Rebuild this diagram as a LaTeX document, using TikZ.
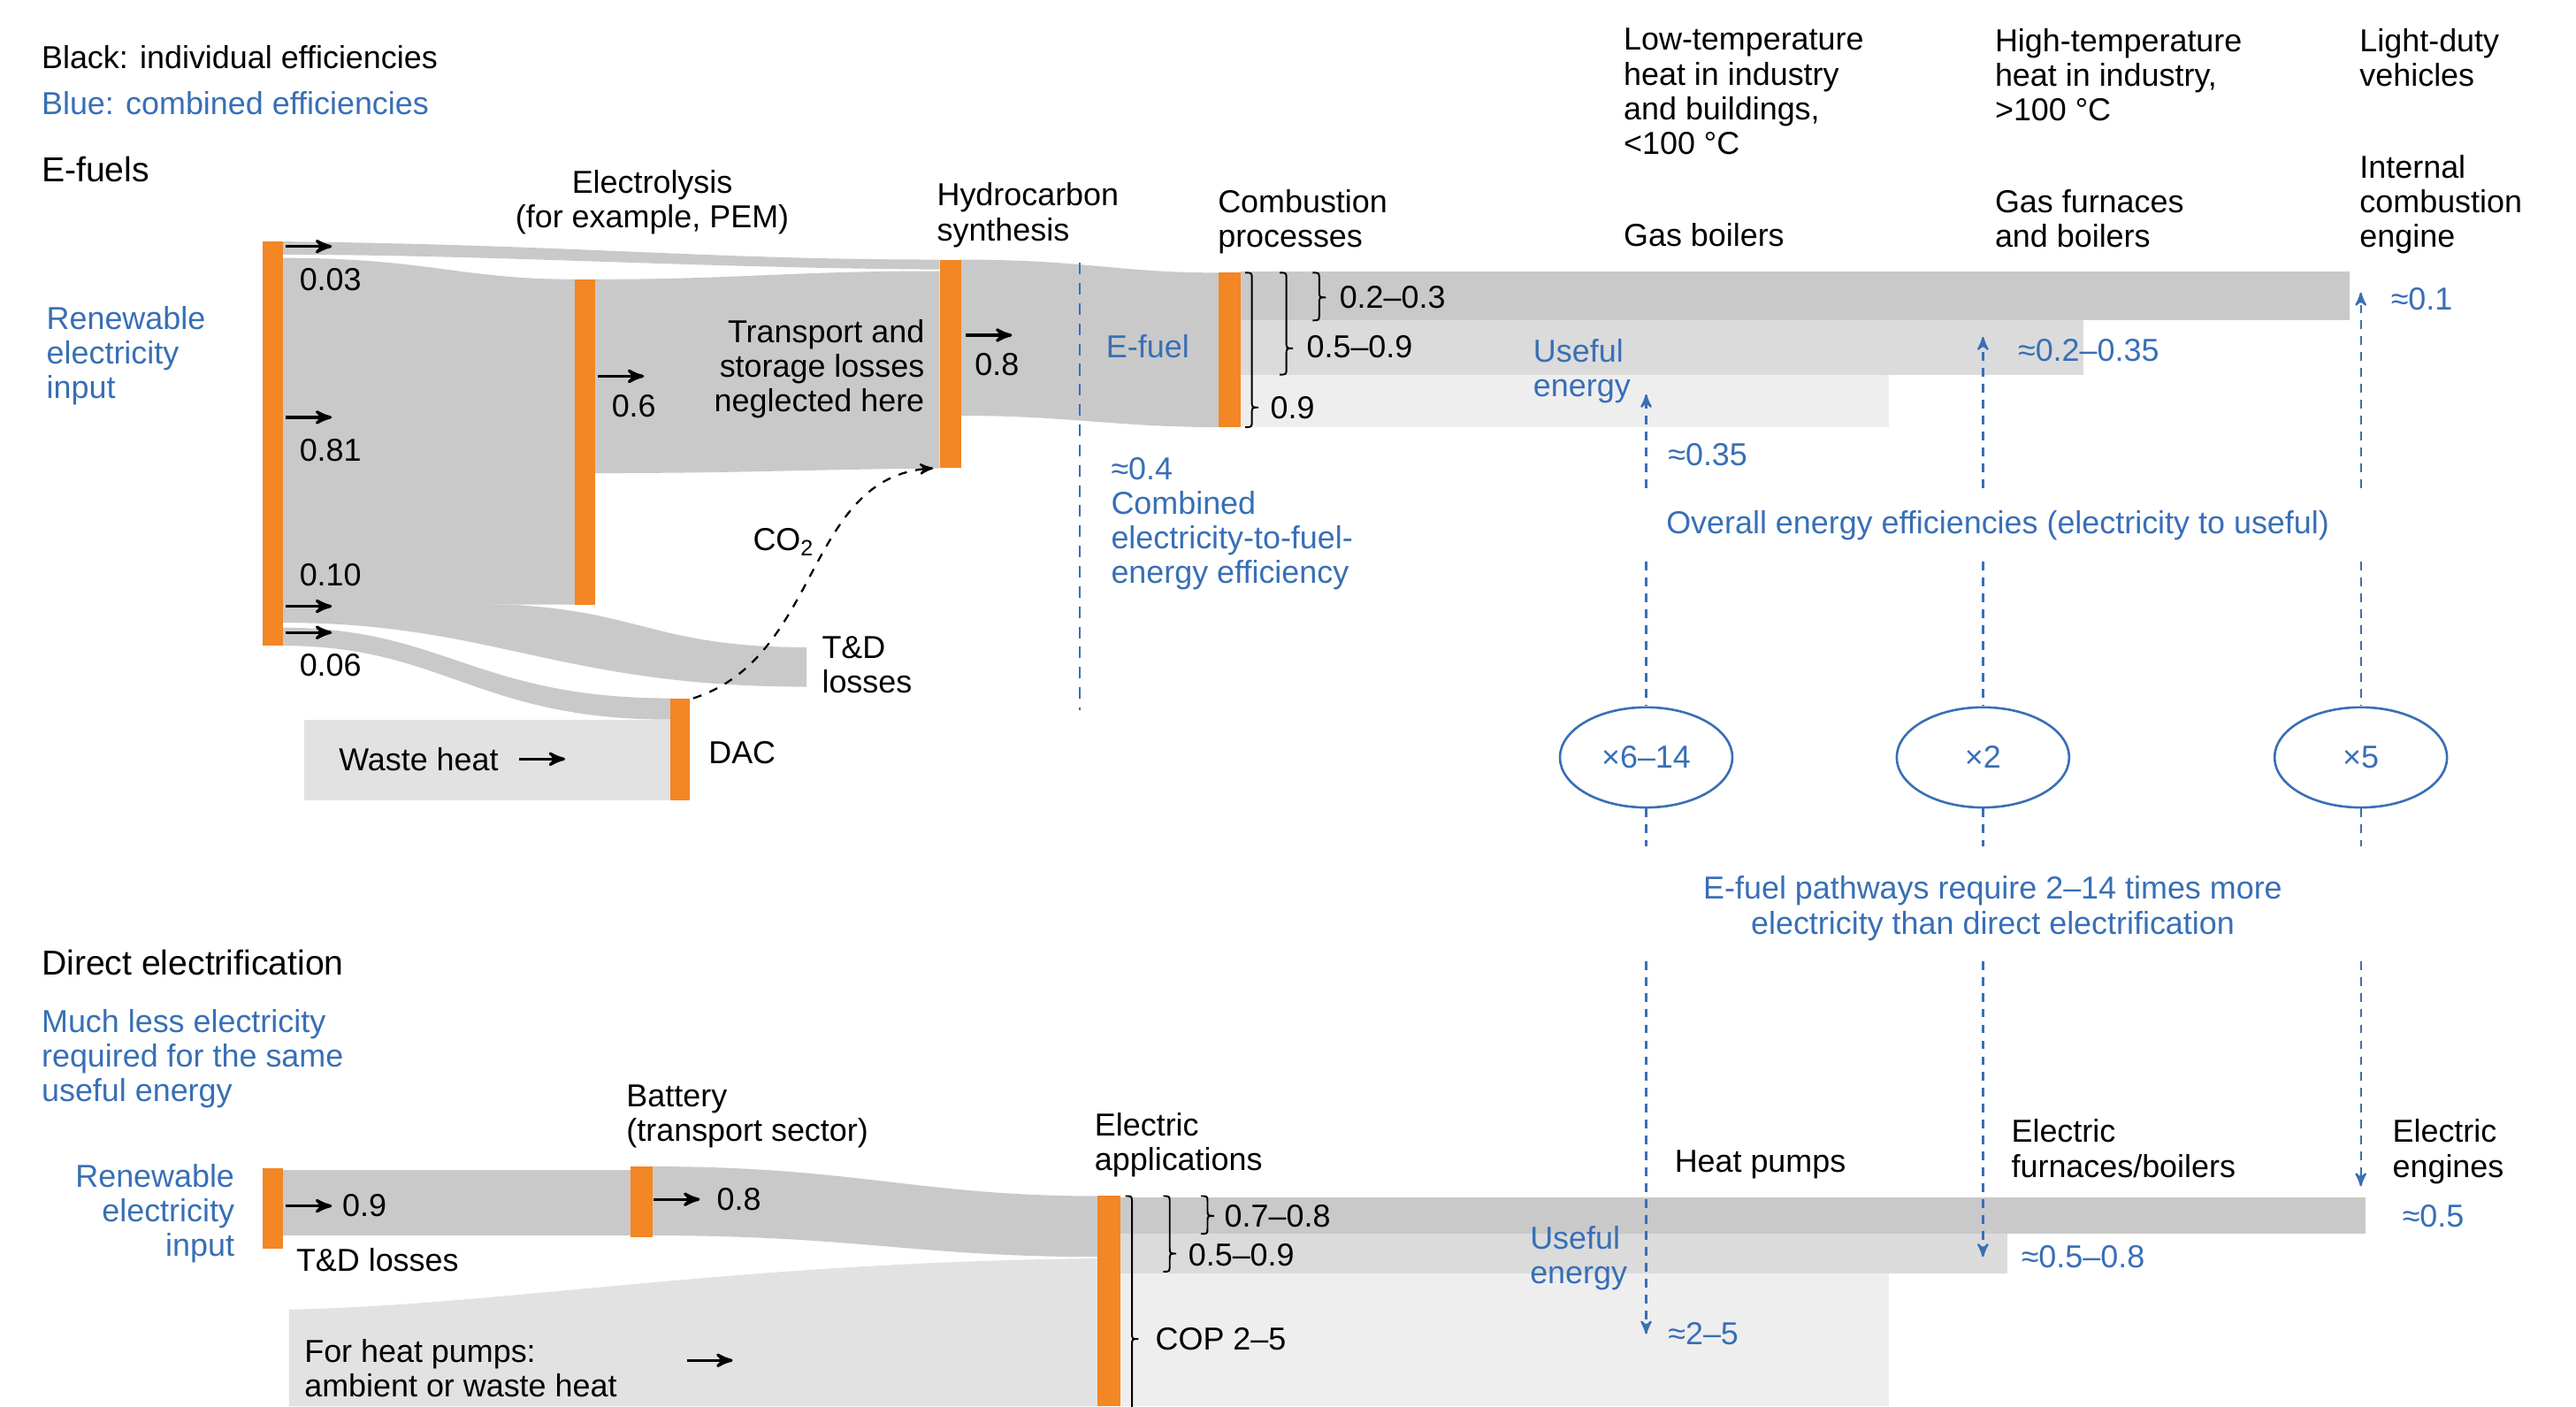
\documentclass[tikz,border=0pt]{standalone}
\usepackage{fontspec}
\setmainfont{Liberation Sans}
\usetikzlibrary{arrows,shapes.geometric}

\definecolor{barorange}{RGB}{243,134,37}
\definecolor{effblue}{RGB}{56,111,182}
\definecolor{flowgray}{RGB}{201,201,201}
\definecolor{midgray}{RGB}{219,219,219}
\definecolor{palegray}{RGB}{238,238,238}
\definecolor{heatgray}{RGB}{226,226,226}

% right brace: x, top, tip, bottom
\newcommand{\sidebrace}[4]{%
  \draw[brace line] (#1,#2) .. controls (#1+4,#2) .. (#1+4,#2+4) -- (#1+4,#3-4)
    .. controls (#1+4,#3) .. (#1+8,#3) .. controls (#1+4,#3) .. (#1+4,#3+4)
    -- (#1+4,#4-4) .. controls (#1+4,#4) .. (#1,#4);}

\begin{document}
\begin{tikzpicture}[x=0.02cm,y=-0.02cm,>=stealth',
  font=\fontsize{11}{12}\selectfont,
  txt/.style={inner sep=0pt,align=left},
  blue txt/.style={txt,text=effblue},
  head txt/.style={txt,anchor=west,font=\fontsize{12}{13}\selectfont},
  val arrow/.style={->,line width=1pt},
  eff line/.style={effblue,line width=0.7pt,dash pattern=on 3pt off 2.5pt},
  ratio/.style={ellipse,draw=effblue,line width=0.8pt,text=effblue,
    minimum width=2.1cm,minimum height=1.22cm,inner sep=0pt},
  brace line/.style={line width=0.6pt}]

\clip (0,0) rectangle (1568,856);

% e-fuel flows
\fill[flowgray] (172,147) .. controls (350,149) and (430,158) .. (572,158)
  -- (572,164) .. controls (420,163) and (300,155) .. (172,155) -- cycle;
\fill[flowgray] (172,157) .. controls (260,157) and (280,170) .. (350,170)
  -- (350,368) -- (172,368) -- cycle;
\fill[flowgray] (362,170) .. controls (450,170) and (480,165) .. (572,165)
  -- (572,285) .. controls (480,286) and (450,288) .. (362,288) -- cycle;
\fill[flowgray] (172,366) -- (310,368) .. controls (390,372) and (400,394) .. (491,394)
  -- (491,418) .. controls (340,418) and (300,379) .. (172,379) -- cycle;
\fill[flowgray] (172,382) .. controls (270,382) and (290,425) .. (408,425)
  -- (408,438) .. controls (290,438) and (270,393) .. (172,393) -- cycle;
\fill[heatgray] (185,438) rectangle (408,487);
\fill[flowgray] (585,158) .. controls (660,158) and (680,166) .. (742,166)
  -- (742,260) .. controls (680,260) and (650,253) .. (585,253) -- cycle;
\fill[palegray] (755,228) rectangle (1150,260);
\fill[midgray] (755,195) rectangle (1268,228);
\fill[flowgray] (755,165) rectangle (1430,195);

% direct electrification flows
\fill[heatgray] (176,856) -- (176,797) .. controls (300,795) and (450,768) .. (668,766)
  -- (668,856) -- cycle;
\fill[flowgray] (172,712) rectangle (384,752);
\fill[flowgray] (397,710) .. controls (520,710) and (560,728) .. (668,728)
  -- (668,765) .. controls (560,765) and (520,752) .. (397,752) -- cycle;
\fill[palegray] (682,775) rectangle (1150,856);
\fill[midgray] (682,751) rectangle (1222,775);
\fill[flowgray] (682,729) rectangle (1440,751);

% process bars
\fill[barorange] (160,147) rectangle (172,393);
\fill[barorange] (350,170) rectangle (362,368);
\fill[barorange] (572,158) rectangle (585,285);
\fill[barorange] (408,425) rectangle (420,487);
\fill[barorange] (742,166) rectangle (755,260);
\fill[barorange] (160,711) rectangle (172,760);
\fill[barorange] (384,710) rectangle (397,753);
\fill[barorange] (668,728) rectangle (682,856);

% braces
\sidebrace{758}{166}{248}{260}
\sidebrace{779}{166}{212}{228}
\sidebrace{799}{166}{181}{195}
\sidebrace{685}{728}{815}{880}
\sidebrace{708}{728}{763}{774}
\sidebrace{731}{728}{740}{751}

% value arrows
\foreach \ax/\ay in {174/150, 174/254, 174/369, 174/385, 364/229, 588/204,
                     316/462, 174/734, 398/730, 418/828}
  \draw[val arrow] (\ax,\ay) -- +(28,0);

% co2 from DAC to synthesis
\coordinate (dacTop) at (422,425);
\coordinate (synBase) at (568,285);
\draw[dashed,->,line width=0.7pt] (dacTop) .. controls (500,400) and (490,290) .. (synBase);

% e-fuel boundary
\draw[effblue,line width=0.6pt,dash pattern=on 4pt off 3pt] (657,160) -- (657,432);

% overall ratios
\node[ratio] (xheat) at (1002,461) {×6–14};
\node[ratio] (xhigh) at (1207,461) {×2};
\node[ratio] (xldv)  at (1437,461) {×5};
\foreach \c/\n/\up/\dn in {1002/xheat/240/812, 1207/xhigh/205/765, 1437/xldv/178/722} {
  \draw[eff line,->] (\c,297) -- (\c,\up);
  \draw[eff line] (\c,342) -- (\n);
  \draw[eff line] (\n) -- (\c,515);
  \draw[eff line,->] (\c,585) -- (\c,\dn);
}

% key and headings
\node[txt,anchor=west] (keyBlack) at (25,35) {Black: individual efficiencies};
\node[blue txt,anchor=west] (keyBlue) at (25,63) {Blue: combined efficiencies};
\node[head txt] (efuels) at (25,103) {E-fuels};
\node[blue txt,anchor=north west] (inE) at (28,186) {Renewable\\electricity\\input};

% e-fuel chain labels
\node[txt,anchor=west] (v003) at (182,170) {0.03};
\node[txt,anchor=west] (v081) at (182,274) {0.81};
\node[txt,anchor=west] (v010) at (182,350) {0.10};
\node[txt,anchor=west] (v006) at (182,405) {0.06};
\node[txt,anchor=north,align=center] (electrolysis) at (397,103) {Electrolysis\\(for example, PEM)};
\node[txt,anchor=west] (v06) at (372,247) {0.6};
\node[txt,anchor=north east,align=right] (transport) at (563,194) {Transport and\\storage losses\\neglected here};
\node[txt,anchor=north west] (synthesis) at (570,111) {Hydrocarbon\\synthesis};
\node[txt,anchor=west] (v08) at (593,222) {0.8};
\node[txt,anchor=west] (co2) at (458,330) {CO\textsubscript{2}};
\node[txt,anchor=north west] (tdE) at (500,387) {T\&D\\losses};
\node[txt,anchor=west] (dac) at (431,458) {DAC};
\node[txt,anchor=west] (waste) at (206,462) {Waste heat};
\node[blue txt,anchor=west] (efuel) at (673,211) {E-fuel};
\node[blue txt,anchor=north west] (fuelEff) at (676,278) {≈0.4\\Combined\\electricity-to-fuel-\\energy efficiency};
\node[txt,anchor=north west] (combustion) at (741,115) {Combustion\\processes};
\node[txt,anchor=west] (v0203) at (815,181) {0.2–0.3};
\node[txt,anchor=west] (v0509) at (795,211) {0.5–0.9};
\node[txt,anchor=west] (v09) at (773,248) {0.9};
\node[blue txt,anchor=north west] (usefulE) at (933,206) {Useful\\energy};

% end uses
\node[txt,anchor=north west] (lowT) at (988,17) {Low-temperature\\heat in industry\\and buildings,\\<100 °C};
\node[txt,anchor=north west] (highT) at (1214,17) {High-temperature\\heat in industry,\\>100 °C};
\node[txt,anchor=north west] (ldv) at (1436,17) {Light-duty\\vehicles};
\node[txt,anchor=west] (gasBoil) at (988,143) {Gas boilers};
\node[txt,anchor=north west] (gasFurn) at (1214,115) {Gas furnaces\\and boilers};
\node[txt,anchor=north west] (ice) at (1436,94) {Internal\\combustion\\engine};
\node[blue txt,anchor=west] (eff035) at (1015,277) {≈0.35};
\node[blue txt,anchor=west] (eff0235) at (1228,213) {≈0.2–0.35};
\node[blue txt,anchor=west] (eff01) at (1455,182) {≈0.1};
\node[blue txt] (overall) at (1216,320) {Overall energy efficiencies (electricity to useful)};
\node[blue txt,anchor=north,align=center] (require) at (1213,533) {E-fuel pathways require 2–14 times more\\electricity than direct electrification};

% direct electrification labels
\node[head txt] (direct) at (25,586) {Direct electrification};
\node[blue txt,anchor=north west] (muchLess) at (25,614) {Much less electricity\\required for the same\\useful energy};
\node[blue txt,anchor=north east,align=right] (inD) at (143,708) {Renewable\\electricity\\input};
\node[txt,anchor=west] (v09d) at (208,734) {0.9};
\node[txt,anchor=west] (tdD) at (180,767) {T\&D losses};
\node[txt,anchor=north west] (battery) at (381,660) {Battery\\(transport sector)};
\node[txt,anchor=west] (v08d) at (436,730) {0.8};
\node[txt,anchor=north west] (heatSrc) at (185,815) {For heat pumps:\\ambient or waste heat};
\node[txt,anchor=north west] (elApp) at (666,677) {Electric\\applications};
\node[txt,anchor=west] (v0708) at (745,740) {0.7–0.8};
\node[txt,anchor=west] (v0509d) at (723,764) {0.5–0.9};
\node[txt,anchor=west] (cop) at (703,815) {COP 2–5};
\node[blue txt,anchor=north west] (usefulD) at (931,746) {Useful\\energy};
\node[txt,anchor=west] (heatPumps) at (1019,709) {Heat pumps};
\node[txt,anchor=north west] (elFurn) at (1224,681) {Electric\\furnaces/boilers};
\node[txt,anchor=north west] (elEng) at (1456,681) {Electric\\engines};
\node[blue txt,anchor=west] (eff25) at (1015,812) {≈2–5};
\node[blue txt,anchor=west] (eff0508) at (1230,765) {≈0.5–0.8};
\node[blue txt,anchor=west] (eff05) at (1462,740) {≈0.5};

\end{tikzpicture}
\end{document}
